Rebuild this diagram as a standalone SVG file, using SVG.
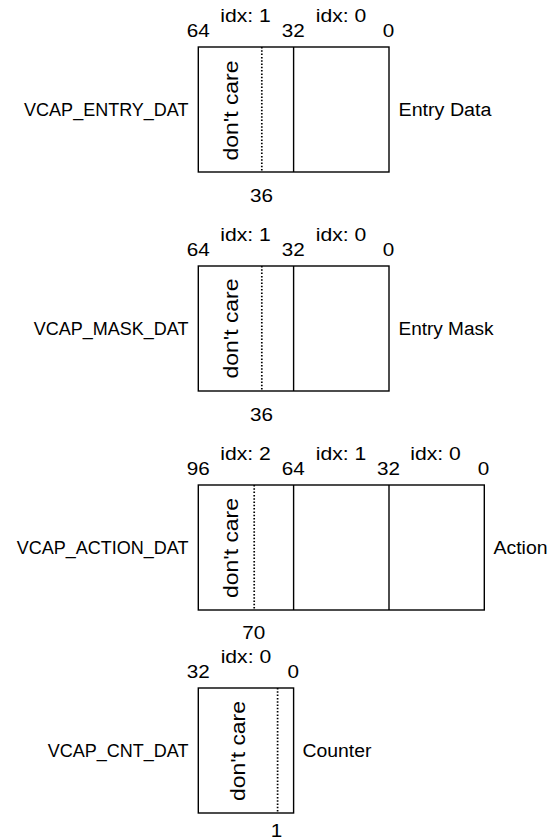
<svg xmlns="http://www.w3.org/2000/svg" width="548" height="840" viewBox="0 0 548 840">
<style>
text{font-family:"Liberation Sans",Arial,sans-serif;fill:#000}
.n{font-size:18px;text-anchor:middle}
.lbl{font-size:18px}
.r{text-anchor:end}
.dc{font-size:21px;text-anchor:middle}
.box{fill:#fff;stroke:#000;stroke-width:1.4}
.sl{stroke:#000;stroke-width:1.4;fill:none}
.dl{stroke:#000;stroke-width:1.7;stroke-dasharray:1.5 1.8;fill:none}
</style>
<rect width="548" height="840" fill="#fff"/>
<g id="connectors"/>
<g id="entry">
<rect class="box" x="198.3" y="47" width="190.7" height="125"/>
<line class="dl" x1="261.8" y1="47" x2="261.8" y2="172"/>
<line class="sl" x1="293.6" y1="47" x2="293.6" y2="172"/>
<text class="n" x="245.5" y="22.3" textLength="50.5" lengthAdjust="spacingAndGlyphs">idx: 1</text>
<text class="n" x="341" y="22.3" textLength="50.5" lengthAdjust="spacingAndGlyphs">idx: 0</text>
<text class="n" x="198.3" y="36.7" textLength="23" lengthAdjust="spacingAndGlyphs">64</text>
<text class="n" x="293.3" y="36.7" textLength="23" lengthAdjust="spacingAndGlyphs">32</text>
<text class="n" x="388.5" y="36.7" textLength="11.5" lengthAdjust="spacingAndGlyphs">0</text>
<text class="n" x="261.5" y="201.7" textLength="23" lengthAdjust="spacingAndGlyphs">36</text>
<text class="lbl r" x="188.5" y="116">VCAP_ENTRY_DAT</text>
<text class="lbl" x="398.5" y="116" textLength="93" lengthAdjust="spacingAndGlyphs">Entry Data</text>
<text class="dc" transform="translate(238,110.5) rotate(-90)" textLength="100" lengthAdjust="spacingAndGlyphs">don't care</text>
</g>
<g id="mask">
<rect class="box" x="198.3" y="266" width="190.7" height="125"/>
<line class="dl" x1="261.8" y1="266" x2="261.8" y2="391"/>
<line class="sl" x1="293.6" y1="266" x2="293.6" y2="391"/>
<text class="n" x="245.5" y="241" textLength="50.5" lengthAdjust="spacingAndGlyphs">idx: 1</text>
<text class="n" x="341" y="241" textLength="50.5" lengthAdjust="spacingAndGlyphs">idx: 0</text>
<text class="n" x="198.3" y="255.7" textLength="23" lengthAdjust="spacingAndGlyphs">64</text>
<text class="n" x="293.3" y="255.7" textLength="23" lengthAdjust="spacingAndGlyphs">32</text>
<text class="n" x="388.5" y="255.7" textLength="11.5" lengthAdjust="spacingAndGlyphs">0</text>
<text class="n" x="261.5" y="420.7" textLength="23" lengthAdjust="spacingAndGlyphs">36</text>
<text class="lbl r" x="188.5" y="335">VCAP_MASK_DAT</text>
<text class="lbl" x="398.5" y="335" textLength="95" lengthAdjust="spacingAndGlyphs">Entry Mask</text>
<text class="dc" transform="translate(238,328.5) rotate(-90)" textLength="100" lengthAdjust="spacingAndGlyphs">don't care</text>
</g>
<g id="action">
<rect class="box" x="198.3" y="485" width="286" height="125"/>
<line class="dl" x1="254.2" y1="485" x2="254.2" y2="610"/>
<line class="sl" x1="293.6" y1="485" x2="293.6" y2="610"/>
<line class="sl" x1="389" y1="485" x2="389" y2="610"/>
<text class="n" x="245.5" y="460" textLength="50.5" lengthAdjust="spacingAndGlyphs">idx: 2</text>
<text class="n" x="341" y="460" textLength="50.5" lengthAdjust="spacingAndGlyphs">idx: 1</text>
<text class="n" x="435.5" y="460" textLength="50.5" lengthAdjust="spacingAndGlyphs">idx: 0</text>
<text class="n" x="198.3" y="474.5" textLength="23" lengthAdjust="spacingAndGlyphs">96</text>
<text class="n" x="293.3" y="474.5" textLength="23" lengthAdjust="spacingAndGlyphs">64</text>
<text class="n" x="388.5" y="474.5" textLength="23" lengthAdjust="spacingAndGlyphs">32</text>
<text class="n" x="483.5" y="474.5" textLength="11.5" lengthAdjust="spacingAndGlyphs">0</text>
<text class="n" x="253.7" y="638.5" textLength="23" lengthAdjust="spacingAndGlyphs">70</text>
<text class="lbl r" x="188.5" y="554">VCAP_ACTION_DAT</text>
<text class="lbl" x="493.5" y="554" textLength="54" lengthAdjust="spacingAndGlyphs">Action</text>
<text class="dc" transform="translate(238,548) rotate(-90)" textLength="100" lengthAdjust="spacingAndGlyphs">don't care</text>
</g>
<g id="counter">
<rect class="box" x="198.3" y="688" width="95.3" height="125"/>
<line class="dl" x1="277.6" y1="688" x2="277.6" y2="813"/>
<text class="n" x="245.9" y="663.3" textLength="50.5" lengthAdjust="spacingAndGlyphs">idx: 0</text>
<text class="n" x="198.3" y="678.3" textLength="23" lengthAdjust="spacingAndGlyphs">32</text>
<text class="n" x="293.3" y="678.3" textLength="11.5" lengthAdjust="spacingAndGlyphs">0</text>
<text class="n" x="276.5" y="837.3" textLength="11.5" lengthAdjust="spacingAndGlyphs">1</text>
<text class="lbl r" x="188.5" y="757">VCAP_CNT_DAT</text>
<text class="lbl" x="302.5" y="757" textLength="69" lengthAdjust="spacingAndGlyphs">Counter</text>
<text class="dc" transform="translate(245,751) rotate(-90)" textLength="100" lengthAdjust="spacingAndGlyphs">don't care</text>
</g>
</svg>
